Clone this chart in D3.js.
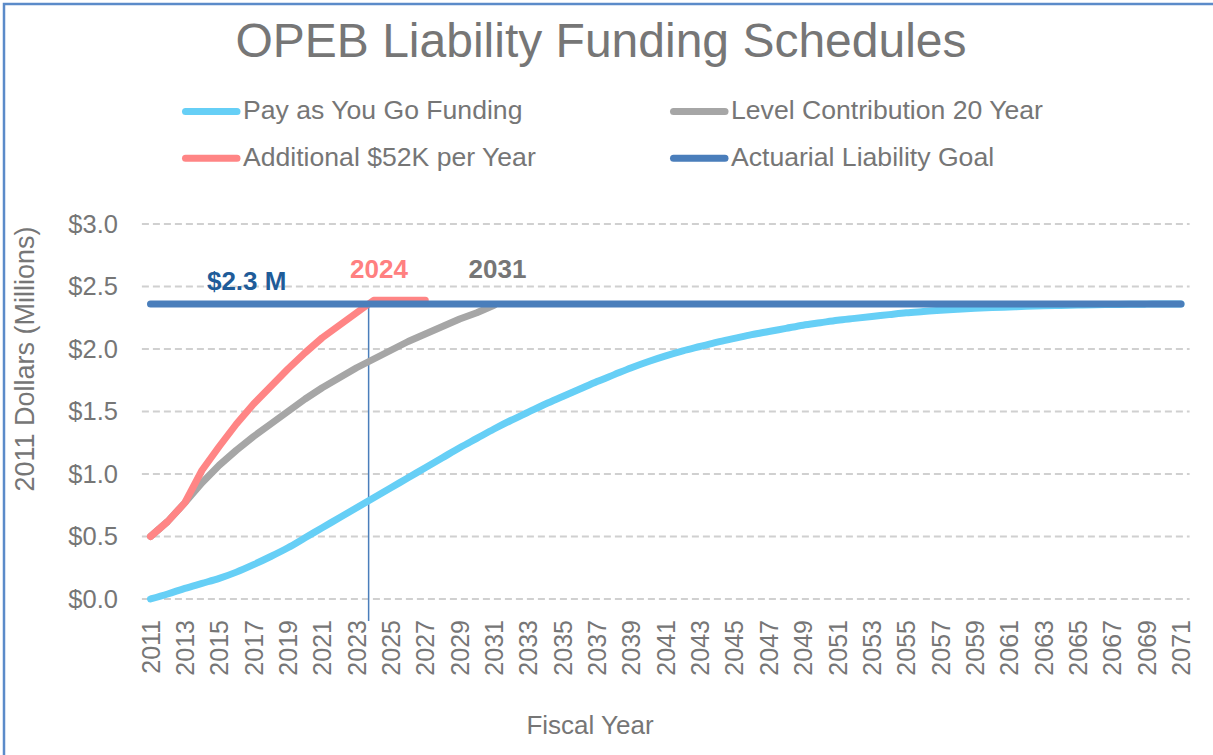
<!DOCTYPE html>
<html>
<head>
<meta charset="utf-8">
<script src="https://cdn.jsdelivr.net/npm/d3@7"></script>
<style>
    body { margin: 0; background: #fff; }
    text { font-family: 'Liberation Sans', Arial, sans-serif; }
</style>
</head>
<body>
<svg id="opeb_chart"></svg>
<script>
// fiscal years 2011..2071
const years = d3.range(2011, 2072)

const payGoValues = [
    0.00, 0.04, 0.085, 0.125, 0.165, 0.215, 0.275, 0.34, 0.41, 0.49,
    0.57, 0.65, 0.73, 0.81, 0.89, 0.97, 1.05, 1.13, 1.21, 1.285,
    1.36, 1.43, 1.495, 1.56, 1.62, 1.68, 1.74, 1.795, 1.85, 1.90,
    1.945, 1.985, 2.02, 2.055, 2.085, 2.115, 2.14, 2.165, 2.19, 2.21,
    2.23, 2.245, 2.26, 2.275, 2.29, 2.30, 2.31, 2.318, 2.325, 2.331,
    2.336, 2.341, 2.345, 2.348, 2.351, 2.354, 2.356, 2.358, 2.359, 2.36,
    2.36
]
// 2011..2031
const levelValues = [
    0.50, 0.62, 0.77, 0.93, 1.07, 1.19, 1.30, 1.40, 1.50, 1.60,
    1.69, 1.77, 1.85, 1.92, 1.99, 2.06, 2.12, 2.18, 2.24, 2.29,
    2.35
]
// 2011..2027
const additionalValues = [
    0.50, 0.62, 0.77, 1.03, 1.22, 1.40, 1.56, 1.70, 1.84, 1.97,
    2.09, 2.19, 2.29, 2.39, 2.39, 2.39, 2.39
]
const goalValue = 2.36

const yTicks = [0, 0.5, 1.0, 1.5, 2.0, 2.5, 3.0]
const xTickYears = d3.range(2011, 2072, 2)

const seriesNames = ['Pay as You Go Funding', 'Level Contribution 20 Year',
    'Additional $52K per Year', 'Actuarial Liability Goal']
const seriesColors = ['#66CFF6', '#A6A6A6', '#FF8585', '#4A7EBB']

// annotations
const goalLabel = '$2.3 M'
const crossYear = 2023.7
const additionalDoneLabel = '2024'
const levelDoneLabel = '2031'

const width = 1213
const height = 755

const svg = d3.select('#opeb_chart')
    .attr('width', width)
    .attr('height', height)

svg.append('rect')
    .attr('width', width).attr('height', height)
    .attr('fill', '#fff')

// chart frame
svg.append('rect')
    .attr('x', 4).attr('y', 4)
    .attr('width', width + 20).attr('height', height + 20)
    .attr('fill', 'none')
    .attr('stroke', '#5B8BC9')
    .attr('stroke-width', 2.5)

const xScale = d3.scaleLinear()
    .domain([2011, 2071])
    .range([150.5, 1181])
const yScale = d3.scaleLinear()
    .domain([0, 3])
    .range([599, 224])

const plotLeft = xScale(2011) - 8.6
const plotRight = xScale(2071) + 8.6
const textGray = '#767676'

// title
svg.append('text')
    .attr('x', 601).attr('y', 57)
    .attr('text-anchor', 'middle')
    .attr('font-size', 48)
    .attr('fill', textGray)
    .text('OPEB Liability Funding Schedules')

// legend (2 x 2)
const legend = svg.append('g')
seriesNames.forEach((name, i) => {
    const col = i % 2
    const row = Math.floor(i / 2)
    const lx = col === 0 ? 182 : 670
    const ly = row === 0 ? 111.5 : 158.3
    legend.append('line')
        .attr('x1', lx + 3.5).attr('x2', lx + 55)
        .attr('y1', ly).attr('y2', ly)
        .attr('stroke', seriesColors[i])
        .attr('stroke-width', 7)
        .attr('stroke-linecap', 'round')
    legend.append('text')
        .attr('x', lx + 61).attr('y', ly + 7.5)
        .attr('font-size', 26.6)
        .attr('fill', textGray)
        .text(name)
})

// gridlines + y axis labels
svg.append('g')
    .selectAll('line')
    .data(yTicks)
    .join('line')
        .attr('x1', plotLeft).attr('x2', plotRight)
        .attr('y1', d => yScale(d)).attr('y2', d => yScale(d))
        .attr('stroke', '#D0D0D0')
        .attr('stroke-width', 2)
        .attr('stroke-dasharray', '7,4')

svg.append('g')
    .selectAll('text')
    .data(yTicks)
    .join('text')
        .attr('x', 118)
        .attr('y', d => yScale(d))
        .attr('dy', '0.35em')
        .attr('text-anchor', 'end')
        .attr('font-size', 25.5)
        .attr('fill', textGray)
        .text(d => '$' + d3.format('.1f')(d))

// x axis labels, rotated
svg.append('g')
    .selectAll('text')
    .data(xTickYears)
    .join('text')
        .attr('transform', d => `translate(${xScale(d)}, 620) rotate(-90)`)
        .attr('dy', '0.36em')
        .attr('text-anchor', 'end')
        .attr('font-size', 25)
        .attr('fill', textGray)
        .text(d => d)

svg.append('text')
    .attr('transform', 'translate(33.5, 359) rotate(-90)')
    .attr('text-anchor', 'middle')
    .attr('font-size', 27)
    .attr('fill', textGray)
    .text('2011 Dollars (Millions)')

svg.append('text')
    .attr('x', 590).attr('y', 734)
    .attr('text-anchor', 'middle')
    .attr('font-size', 26)
    .attr('fill', textGray)
    .text('Fiscal Year')

// series
const straight = d3.line()
    .x(d => xScale(d.year))
    .y(d => yScale(d.value))
const smooth = d3.line()
    .x(d => xScale(d.year))
    .y(d => yScale(d.value))
    .curve(d3.curveMonotoneX)

const toPoints = values => values.map((v, i) => ({ year: years[i], value: v }))
const seriesData = [
    toPoints(payGoValues),
    toPoints(levelValues),
    toPoints(additionalValues),
    years.map(y => ({ year: y, value: goalValue }))
]

// crossing marker (drawn under the goal line)
svg.append('line')
    .attr('x1', xScale(crossYear)).attr('x2', xScale(crossYear))
    .attr('y1', yScale(goalValue)).attr('y2', 621)
    .attr('stroke', '#4A7EBB')
    .attr('stroke-width', 1.5)

svg.append('g')
    .selectAll('path')
    .data(seriesData)
    .join('path')
        .attr('d', (d, i) => i === 0 ? smooth(d) : straight(d))
        .attr('fill', 'none')
        .attr('stroke', (d, i) => seriesColors[i])
        .attr('stroke-width', 7)
        .attr('stroke-linecap', 'round')
        .attr('stroke-linejoin', 'round')

// labels
svg.append('text')
    .attr('x', xScale(2016.6)).attr('y', 290)
    .attr('text-anchor', 'middle')
    .attr('font-size', 26).attr('font-weight', 'bold')
    .attr('fill', '#1F5C99')
    .text(goalLabel)

svg.append('text')
    .attr('x', xScale(2024.3)).attr('y', 278)
    .attr('text-anchor', 'middle')
    .attr('font-size', 26).attr('font-weight', 'bold')
    .attr('fill', '#FF8080')
    .text(additionalDoneLabel)

svg.append('text')
    .attr('x', xScale(2031.2)).attr('y', 278)
    .attr('text-anchor', 'middle')
    .attr('font-size', 26).attr('font-weight', 'bold')
    .attr('fill', textGray)
    .text(levelDoneLabel)
</script>
</body>
</html>
